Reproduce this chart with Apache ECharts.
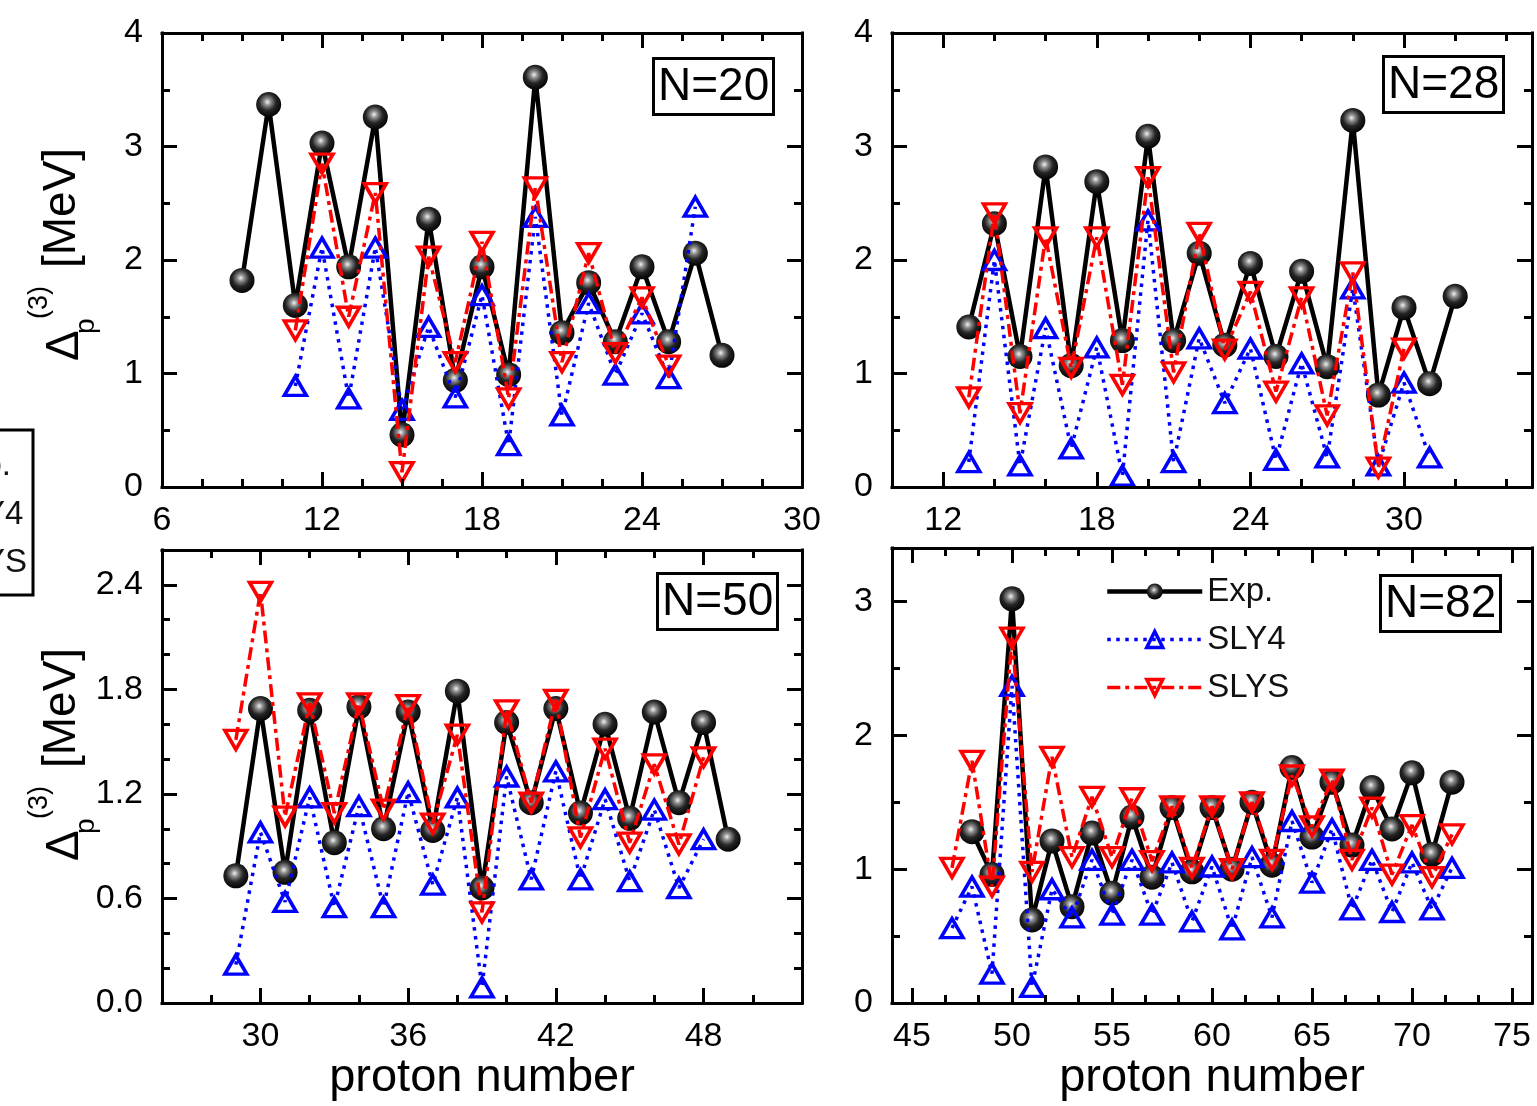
<!DOCTYPE html>
<html>
<head>
<meta charset="utf-8">
<script src="https://cdn.jsdelivr.net/npm/echarts@6/dist/echarts.min.js"></script>
<style>
  html, body { margin: 0; padding: 0; background: #fff; }
  #chart { width: 1537px; height: 1106px; }
</style>
</head>
<body>
<div id="chart"></div>
<script>
// Three-point odd-even proton gap Δp(3) [MeV] along isotones, experiment vs. SLY4 / SLYS.

// ---- N = 20 ----
const n20ExpZ  = [9, 10, 11, 12, 13, 14, 15, 16, 17, 18, 19, 20, 21, 22, 23, 24, 25, 26, 27];
const n20Exp   = [1.82, 3.37, 1.60, 3.03, 1.94, 3.26, 0.46, 2.36, 0.94, 1.94, 0.99, 3.61, 1.36, 1.80, 1.28, 1.94, 1.28, 2.06, 1.16];
const n20Sly4Z = [11, 12, 13, 14, 15, 16, 17, 18, 19, 20, 21, 22, 23, 24, 25, 26];
const n20Sly4  = [0.89, 2.11, 0.78, 2.11, 0.68, 1.41, 0.79, 1.69, 0.37, 2.38, 0.63, 1.62, 0.99, 1.53, 0.96, 2.47];
const n20SlysZ = [11, 12, 13, 14, 15, 16, 17, 18, 19, 20, 21, 22, 23, 24, 25];
const n20Slys  = [1.38, 2.85, 1.50, 2.59, 0.13, 2.03, 1.10, 2.16, 0.78, 2.64, 1.10, 2.06, 1.18, 1.67, 1.07];

// ---- N = 28 ----
const n28ExpZ  = [13, 14, 15, 16, 17, 18, 19, 20, 21, 22, 23, 24, 25, 26, 27, 28, 29, 30, 31, 32];
const n28Exp   = [1.41, 2.32, 1.15, 2.82, 1.07, 2.69, 1.29, 3.09, 1.29, 2.06, 1.25, 1.97, 1.15, 1.90, 1.06, 3.23, 0.81, 1.58, 0.91, 1.68];
const n28Sly4Z = [13, 14, 15, 16, 17, 18, 19, 20, 21, 22, 23, 24, 25, 26, 27, 28, 29, 30, 31];
const n28Sly4  = [0.22, 2.00, 0.19, 1.40, 0.34, 1.23, 0.10, 2.35, 0.22, 1.31, 0.74, 1.22, 0.24, 1.09, 0.26, 1.75, 0.19, 0.92, 0.26];
const n28SlysZ = [13, 14, 15, 16, 17, 18, 19, 20, 21, 22, 23, 24, 25, 26, 27, 28, 29, 30];
const n28Slys  = [0.79, 2.41, 0.65, 2.20, 1.05, 2.20, 0.90, 2.73, 1.01, 2.24, 1.21, 1.72, 0.84, 1.67, 0.63, 1.89, 0.17, 1.22];

// ---- N = 50 ----
const n50ExpZ  = [29, 30, 31, 32, 33, 34, 35, 36, 37, 38, 39, 40, 41, 42, 43, 44, 45, 46, 47, 48, 49];
const n50Exp   = [0.73, 1.69, 0.75, 1.68, 0.92, 1.70, 1.00, 1.67, 0.99, 1.79, 0.66, 1.61, 1.15, 1.69, 1.09, 1.60, 1.06, 1.67, 1.15, 1.61, 0.94];
const n50Sly4Z = [29, 30, 31, 32, 33, 34, 35, 36, 37, 38, 39, 40, 41, 42, 43, 44, 45, 46, 47, 48];
const n50Sly4  = [0.22, 0.98, 0.58, 1.18, 0.55, 1.13, 0.55, 1.21, 0.68, 1.18, 0.09, 1.30, 0.71, 1.33, 0.71, 1.17, 0.70, 1.11, 0.66, 0.94];
const n50SlysZ = [29, 30, 31, 32, 33, 34, 35, 36, 37, 38, 39, 40, 41, 42, 43, 44, 45, 46, 47, 48];
const n50Slys  = [1.51, 2.36, 1.07, 1.72, 1.09, 1.72, 1.11, 1.71, 1.03, 1.54, 0.52, 1.68, 1.15, 1.74, 0.95, 1.46, 0.92, 1.37, 0.91, 1.41];

// ---- N = 82 ----
const n82ExpZ  = [48, 49, 50, 51, 52, 53, 54, 55, 56, 57, 58, 59, 60, 61, 62, 63, 64, 65, 66, 67, 68, 69, 70, 71, 72];
const n82Exp   = [1.28, 0.96, 3.02, 0.62, 1.21, 0.72, 1.27, 0.82, 1.39, 0.94, 1.46, 0.98, 1.46, 1.00, 1.50, 1.03, 1.76, 1.24, 1.65, 1.18, 1.61, 1.30, 1.72, 1.11, 1.65];
const n82Sly4Z = [47, 48, 49, 50, 51, 52, 53, 54, 55, 56, 57, 58, 59, 60, 61, 62, 63, 64, 65, 66, 67, 68, 69, 70, 71, 72];
const n82Sly4  = [0.56, 0.87, 0.22, 2.37, 0.12, 0.85, 0.64, 1.07, 0.66, 1.07, 0.66, 1.05, 0.61, 1.02, 0.55, 1.09, 0.64, 1.36, 0.90, 1.30, 0.70, 1.07, 0.68, 1.05, 0.70, 1.01];
const n82SlysZ = [47, 48, 49, 50, 51, 52, 53, 54, 55, 56, 57, 58, 59, 60, 61, 62, 63, 64, 65, 66, 67, 68, 69, 70, 71, 72];
const n82Slys  = [1.01, 1.81, 0.87, 2.73, 0.98, 1.84, 1.09, 1.54, 1.09, 1.53, 1.06, 1.47, 1.01, 1.47, 1.00, 1.50, 1.07, 1.70, 1.32, 1.67, 1.07, 1.46, 0.96, 1.33, 0.94, 1.26];

// ---- labelled tick values ----
const p1XTicks = [6, 12, 18, 24, 30];
const p1YTicks = [0, 1, 2, 3, 4];
const p2XTicks = [12, 18, 24, 30];
const p2YTicks = [0, 1, 2, 3, 4];
const p3XTicks = [30, 36, 42, 48];
const p3YTicks = [0, 0.6, 1.2, 1.8, 2.4];
const p4XTicks = [45, 50, 55, 60, 65, 70, 75];
const p4YTicks = [0, 1, 2, 3];

const panelLabels = ['N=20', 'N=28', 'N=50', 'N=82'];
const seriesNames = ['Exp.', 'SLY4', 'SLYS'];
const xTitle = 'proton number';

const FONT = "'Liberation Sans', Arial, Helvetica, sans-serif";
const BLUE = '#0000ff';
const RED = '#ff0000';

function pairs(zs, vs) { return zs.map((z, i) => [z, vs[i]]); }

// minor tick positions between (and beyond) the labelled ticks
function minorTicks(major, parts, lo, hi) {
  const step = (major[1] - major[0]) / parts;
  const out = [];
  for (let k = 0; major[0] - k * step >= lo - 1e-9; k++) out.push(major[0] - k * step);
  for (let k = 1; major[0] + k * step <= hi + 1e-9; k++) out.push(major[0] + k * step);
  return out
    .map(v => Math.round(v * 10000) / 10000)
    .filter(v => !major.some(m => Math.abs(m - v) < 1e-6));
}

const panels = [
  { left: 162, top: 33,  width: 640, height: 454, x: [6, 30],  y: [0, 4],   xt: p1XTicks, yt: p1YTicks, xs: 4, ys: 2, dec: 0, box: [653, 58],
    data: [[n20ExpZ, n20Exp], [n20Sly4Z, n20Sly4], [n20SlysZ, n20Slys]], xName: false },
  { left: 892, top: 33,  width: 640, height: 454, x: [10, 35], y: [0, 4],   xt: p2XTicks, yt: p2YTicks, xs: 3, ys: 2, dec: 0, box: [1383, 56],
    data: [[n28ExpZ, n28Exp], [n28Sly4Z, n28Sly4], [n28SlysZ, n28Slys]], xName: false },
  { left: 162, top: 550, width: 640, height: 453, x: [26, 52], y: [0, 2.6], xt: p3XTicks, yt: p3YTicks, xs: 3, ys: 3, dec: 1, box: [657, 573],
    data: [[n50ExpZ, n50Exp], [n50Sly4Z, n50Sly4], [n50SlysZ, n50Slys]], xName: true },
  { left: 892, top: 548, width: 640, height: 455, x: [44, 76], y: [0, 3.4], xt: p4XTicks, yt: p4YTicks, xs: 3, ys: 2, dec: 0, box: [1380, 575],
    data: [[n82ExpZ, n82Exp], [n82Sly4Z, n82Sly4], [n82SlysZ, n82Slys]], xName: true }
];

const ball = {
  type: 'radial', x: 0.45, y: 0.4, r: 0.62,
  colorStops: [
    { offset: 0, color: '#f2f2f2' },
    { offset: 0.22, color: '#8e8e8e' },
    { offset: 0.55, color: '#262626' },
    { offset: 1, color: '#000000' }
  ]
};

const tickStyle = { color: '#000', width: 3 };

function makeAxis(gi, pos, range, ticks, len, showLine, label) {
  return {
    type: 'value', gridIndex: gi, position: pos, min: range[0], max: range[1],
    axisLine: { show: showLine, onZero: false, lineStyle: { color: '#000', width: 3, cap: 'square' } },
    axisTick: { show: true, inside: true, length: len, customValues: ticks, lineStyle: tickStyle },
    minorTick: { show: false },
    splitLine: { show: false },
    axisLabel: label || { show: false },
    z: 5
  };
}

const grid = [], xAxis = [], yAxis = [], series = [], title = [];

panels.forEach((P, gi) => {
  grid.push({ left: P.left, top: P.top, width: P.width, height: P.height, outerBoundsMode: 'none', containLabel: false });

  const xMinor = minorTicks(P.xt, P.xs, P.x[0], P.x[1]);
  const yMinor = minorTicks(P.yt, P.ys, P.y[0], P.y[1]);

  const xi = xAxis.length;
  const xMain = makeAxis(gi, 'bottom', P.x, P.xt, 15, true, {
    show: true, customValues: P.xt, margin: 17, fontSize: 34, fontFamily: FONT, color: '#000',
    formatter: v => String(v)
  });
  if (P.xName) {
    xMain.name = xTitle;
    xMain.nameLocation = 'middle';
    xMain.nameGap = 48;
    xMain.nameTextStyle = { fontSize: 47, fontFamily: FONT, color: '#000' };
  }
  xAxis.push(
    xMain,
    makeAxis(gi, 'bottom', P.x, xMinor, 8, false),
    makeAxis(gi, 'top', P.x, P.xt, 15, true),
    makeAxis(gi, 'top', P.x, xMinor, 8, false)
  );

  const yi = yAxis.length;
  yAxis.push(
    makeAxis(gi, 'left', P.y, P.yt, 15, true, {
      show: true, customValues: P.yt, margin: 19, fontSize: 34, fontFamily: FONT, color: '#000',
      padding: [0, 0, 10, 0],
      formatter: v => Number(v).toFixed(P.dec)
    }),
    makeAxis(gi, 'left', P.y, yMinor, 8, false),
    makeAxis(gi, 'right', P.y, P.yt, 15, true),
    makeAxis(gi, 'right', P.y, yMinor, 8, false)
  );

  const [exp, sly4, slys] = P.data;
  series.push(
    {
      type: 'line', name: seriesNames[0], xAxisIndex: xi, yAxisIndex: yi,
      data: pairs(exp[0], exp[1]),
      symbol: 'circle', symbolSize: 25, clip: false, z: 2,
      itemStyle: { color: ball },
      lineStyle: { color: '#000', width: 4.5 }
    },
    {
      type: 'line', name: seriesNames[1], xAxisIndex: xi, yAxisIndex: yi,
      data: pairs(sly4[0], sly4[1]),
      symbol: 'triangle', symbolSize: [22, 19], clip: false, z: 3,
      itemStyle: { color: 'rgba(255,255,255,0)', borderColor: BLUE, borderWidth: 3.5 },
      lineStyle: { color: BLUE, width: 3.5, type: [3.5, 5.5] }
    },
    {
      type: 'line', name: seriesNames[2], xAxisIndex: xi, yAxisIndex: yi,
      data: pairs(slys[0], slys[1]),
      symbol: 'triangle', symbolRotate: 180, symbolSize: [22, 19], clip: false, z: 4,
      itemStyle: { color: 'rgba(255,255,255,0)', borderColor: RED, borderWidth: 3.5 },
      lineStyle: { color: RED, width: 3.5, type: [13, 5, 4, 5] }
    }
  );

  title.push({
    text: panelLabels[gi], left: P.box[0], top: P.box[1],
    padding: [4, 5, 3, 5], borderColor: '#000', borderWidth: 3,
    textStyle: { fontSize: 46, fontWeight: 'normal', fontFamily: FONT, color: '#000', lineHeight: 50 }
  });
});

// rotated y-axis title: Δ with subscript p and superscript (3), then [MeV]
function yTitle(dx, dy) {
  const base = { align: 'left', verticalAlign: 'middle', fontFamily: FONT, fill: '#000' };
  const t = (x, y, text, size) => ({
    type: 'text', x: x + dx, y: y + dy, rotation: Math.PI / 2, z: 10,
    style: Object.assign({ text: text, fontSize: size }, base)
  });
  return [
    t(65, 361, 'Δ', 46),
    t(86, 334, 'p', 28),
    t(40, 319, '(3)', 27),
    t(62, 268, '[MeV]', 46)
  ];
}

// boxed key partly outside the left edge of the canvas
const sideKey = [
  { type: 'rect', shape: { x: -200, y: 430, width: 233, height: 165 }, style: { fill: 'none', stroke: '#000', lineWidth: 3 } },
  { type: 'text', x: -55, y: 466, style: { text: seriesNames[0], fontSize: 33, fontFamily: FONT, fill: '#111', verticalAlign: 'middle' } },
  { type: 'text', x: -55, y: 515, style: { text: seriesNames[1], fontSize: 33, fontFamily: FONT, fill: '#111', verticalAlign: 'middle' } },
  { type: 'text', x: -55, y: 563, style: { text: seriesNames[2], fontSize: 33, fontFamily: FONT, fill: '#111', verticalAlign: 'middle' } }
];

const chart = echarts.init(document.getElementById('chart'), null, { renderer: 'canvas' });
chart.setOption({
  backgroundColor: '#ffffff',
  animation: false,
  title: title,
  grid: grid,
  xAxis: xAxis,
  yAxis: yAxis,
  series: series,
  legend: {
    data: seriesNames,
    orient: 'vertical',
    left: 1100, top: 570,
    itemWidth: 95, itemHeight: 20, itemGap: 15,
    selectedMode: false,
    lineStyle: { width: 'inherit', type: 'inherit' },
    itemStyle: { borderWidth: 'inherit' },
    textStyle: { fontSize: 33, fontFamily: FONT, color: '#111' }
  },
  graphic: [].concat(yTitle(0, 0), yTitle(0, 500), sideKey)
});
</script>
</body>
</html>
